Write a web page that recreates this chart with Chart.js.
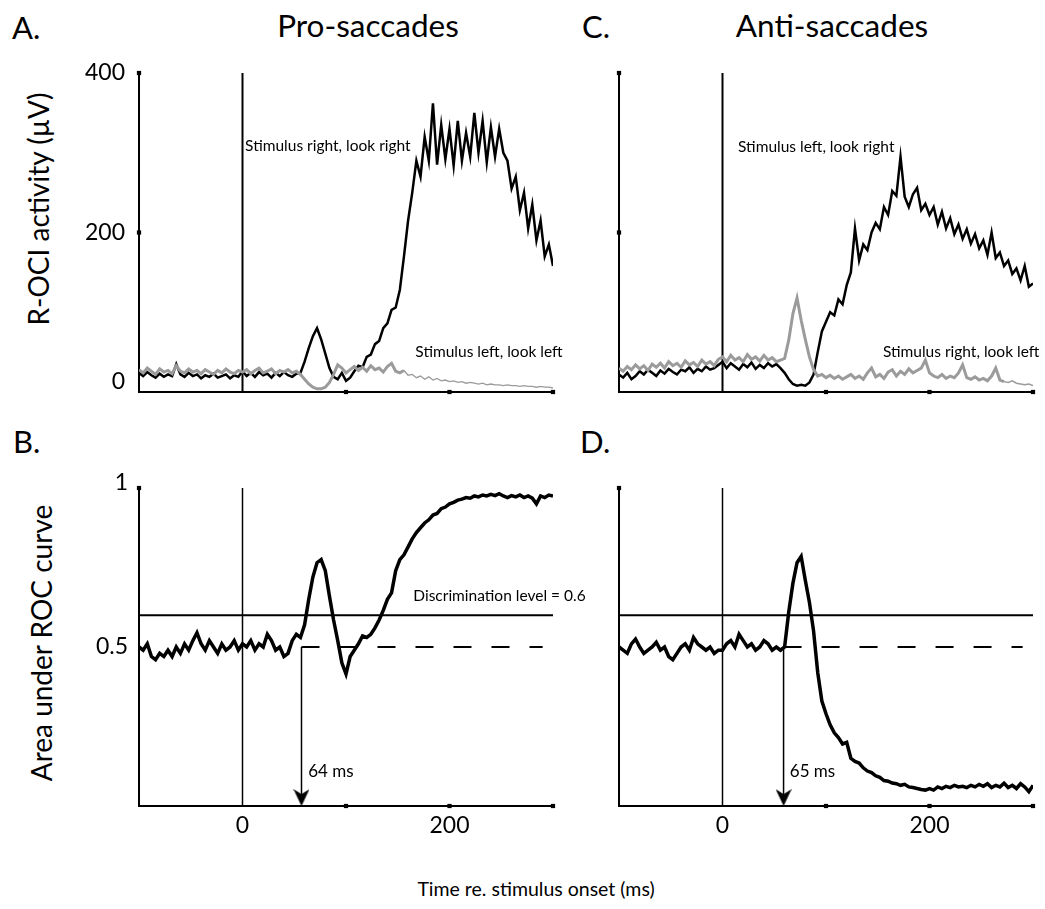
<!DOCTYPE html>
<html>
<head>
<meta charset="utf-8">
<script src="https://cdn.jsdelivr.net/npm/chart.js@4.4.0/dist/chart.umd.min.js"></script>
<style>
  html, body { margin: 0; padding: 0; background: #fff; }
  body { width: 1045px; height: 909px; position: relative; overflow: hidden; font-family: Lato, "Open Sans", sans-serif; color: #000; }
  canvas { position: absolute; }
  .lbl { position: absolute; white-space: nowrap; line-height: 1; }
  .c { transform: translate(-50%, -50%); }
  .l { transform: translate(0, -50%); }
  .rot { transform: translate(-50%, -50%) rotate(-90deg); }
</style>
</head>
<body>
<div class="lbl l" style="left:12px;top:27px;font-size:31px">A.</div>
<div class="lbl c" style="left:368px;top:26px;font-size:31.5px">Pro-saccades</div>
<div class="lbl l" style="left:582px;top:26px;font-size:31px">C.</div>
<div class="lbl c" style="left:832px;top:26px;font-size:31.5px">Anti-saccades</div>
<div class="lbl l" style="left:13px;top:441px;font-size:31px">B.</div>
<div class="lbl l" style="left:580px;top:441px;font-size:31px">D.</div>
<div class="lbl rot" style="left:38px;top:209px;font-size:28px">R-OCI activity (µV)</div>
<div class="lbl rot" style="left:41px;top:643px;font-size:28px">Area under ROC curve</div>
<div class="lbl c" style="left:536px;top:889px;font-size:19.5px">Time re. stimulus onset (ms)</div>

<canvas id="pA" width="560" height="399" style="left:59px;top:43px;width:560px;height:399px"></canvas>
<canvas id="pC" width="506" height="399" style="left:539px;top:43px;width:506px;height:399px"></canvas>
<canvas id="pB" width="560" height="398" style="left:59px;top:458px;width:560px;height:398px"></canvas>
<canvas id="pD" width="506" height="398" style="left:539px;top:458px;width:506px;height:398px"></canvas>

<script>
// ---- data (ms re. stimulus onset, 4 ms bins) ----
const TIME = [-100,-96,-92,-88,-84,-80,-76,-72,-68,-64,-60,-56,-52,-48,-44,-40,-36,-32,-28,-24,-20,-16,-12,-8,-4,
  0,4,8,12,16,20,24,28,32,36,40,44,48,52,
  56,60,64,68,72,76,80,84,88,92,96,100,104,108,112,116,120,124,128,132,136,140,144,148,152,156,160,164,168,172,176,
  180,184,188,192,196,200,204,208,212,216,220,224,228,232,236,240,244,248,252,256,260,264,268,272,276,280,284,288,292,296,300];

// A. pro-saccades, R-OCI activity (µV)
const PRO_RIGHT_RIGHT = [24,20,25,21,18,23,19,22,20,35,22,19,24,20,22,17,21,19,23,18,20,22,17,21,19,
  26,20,24,19,25,21,23,18,24,20,25,21,19,23,
  24,38,55,70,80,66,48,30,19,16,24,14,18,26,33,31,44,47,60,64,80,86,103,106,128,170,215,250,290,270,320,
  290,362,285,335,292,330,284,340,290,325,295,350,300,340,288,332,295,330,300,290,255,270,228,250,205,235,190,215,170,185,158];
const PRO_LEFT_LEFT = [28,24,30,26,22,29,25,27,23,33,26,24,29,25,27,23,28,25,22,27,24,29,25,23,27,
  25,28,23,27,30,24,26,29,23,27,25,28,24,26,
  22,16,10,6,4,4,6,12,22,34,30,24,28,32,27,31,26,33,28,30,25,32,36,26,24,27,21,22,18,20,16,
  19,15,17,14,15,13,14,12,13,11,12,11,10,11,9,10,9,9,8,9,8,8,7,8,7,7,6,7,6,6,5];

// C. anti-saccades, R-OCI activity (µV)
const ANTI_LEFT_RIGHT = [22,18,24,16,20,26,22,28,24,20,27,23,29,25,22,28,26,31,24,29,26,32,28,30,34,
  38,30,36,32,28,35,31,37,29,34,30,36,32,35,
  30,24,16,10,8,9,8,12,22,50,76,88,100,96,116,110,134,150,205,165,185,178,200,212,204,232,222,252,246,295,245,
  232,248,256,228,236,222,232,210,226,205,218,198,210,192,204,186,198,180,190,172,200,168,175,158,165,148,155,140,158,132,136];
const ANTI_RIGHT_LEFT = [30,26,32,28,34,29,33,27,35,31,36,30,38,33,36,31,39,34,37,32,40,35,38,33,41,
  44,38,46,40,43,38,47,41,44,39,46,40,43,38,
  40,42,65,98,118,90,66,44,28,20,22,18,21,17,20,16,19,22,17,20,16,24,30,19,22,17,25,28,20,26,22,
  29,24,27,30,40,24,20,18,22,17,20,18,24,34,18,16,19,15,17,14,20,30,15,13,12,14,11,10,9,10,8];

// B. / D. area under ROC curve
const AUC_PRO = [0.50,0.49,0.51,0.47,0.46,0.48,0.47,0.49,0.47,0.50,0.48,0.51,0.49,0.52,0.545,0.51,0.49,0.52,0.50,0.48,0.51,0.49,0.50,0.52,0.49,
  0.51,0.50,0.52,0.49,0.51,0.50,0.54,0.52,0.49,0.50,0.47,0.48,0.52,0.54,
  0.53,0.57,0.65,0.72,0.765,0.775,0.74,0.66,0.585,0.52,0.45,0.415,0.47,0.49,0.51,0.535,0.53,0.54,0.56,0.585,
  0.615,0.65,0.67,0.74,0.775,0.79,0.815,0.84,0.86,0.875,0.89,0.9,0.915,0.92,0.935,0.94,0.95,0.955,0.962,0.965,
  0.97,0.968,0.975,0.972,0.978,0.975,0.98,0.976,0.982,0.975,0.97,0.976,0.972,0.978,0.97,0.975,0.968,0.95,0.975,0.97,0.978,0.975];
const AUC_ANTI = [0.50,0.49,0.48,0.51,0.525,0.50,0.48,0.49,0.50,0.515,0.49,0.50,0.47,0.46,0.48,0.50,0.51,0.49,0.53,0.51,0.50,0.49,0.50,0.48,0.49,
  0.49,0.51,0.52,0.50,0.54,0.52,0.50,0.51,0.49,0.50,0.52,0.51,0.49,0.50,
  0.49,0.50,0.61,0.70,0.765,0.785,0.71,0.64,0.55,0.42,0.33,0.29,0.255,0.23,0.215,0.195,0.20,0.15,0.14,0.135,
  0.12,0.11,0.105,0.095,0.09,0.08,0.078,0.072,0.07,0.065,0.068,0.06,0.058,0.055,0.052,0.05,0.055,0.05,0.06,0.055,
  0.062,0.058,0.065,0.06,0.062,0.058,0.065,0.06,0.068,0.062,0.07,0.058,0.065,0.06,0.072,0.058,0.065,0.055,0.07,0.06,0.045,0.065];

// axes, reference levels, latencies
const X_RANGE = [-100, 300];
const X_TICKS = [0, 200];
const X_DOTS = [100, 200, 300];
const UV_RANGE = [0, 400];
const UV_TICKS = [0, 200, 400];
const UV_DOTS = [200, 400];
const AUC_RANGE = [0, 1];
const AUC_TICKS = [0.5, 1];
const AUC_DOTS = [1];
const DISCRIM_LEVEL = 0.6;
const CHANCE_LEVEL = 0.5;
const LATENCY_ARROW = { pro: 57, anti: 59 };
const LATENCY_TEXT = { pro: '64 ms', anti: '65 ms' };

const BLACK = '#000';
const GREY = '#9b9b9b';
const FONT = 'Lato, "Open Sans", sans-serif';

// arrow head used as point style at the end of the latency arrows
const head = document.createElement('canvas');
head.width = 16; head.height = 18;
(() => {
  const g = head.getContext('2d');
  g.fillStyle = BLACK;
  g.beginPath();
  g.moveTo(8, 18); g.lineTo(0, 1); g.lineTo(8, 6); g.lineTo(16, 1);
  g.closePath(); g.fill();
})();

// text notes placed in data coordinates
const notesPlugin = {
  id: 'notes',
  afterDatasetsDraw(chart, args, opts) {
    const { ctx, scales: { x, y } } = chart;
    ctx.save();
    (opts.items || []).forEach(n => {
      ctx.font = `${n.size}px ${FONT}`;
      ctx.fillStyle = BLACK;
      ctx.textAlign = 'left';
      ctx.textBaseline = 'middle';
      ctx.fillText(n.text, x.getPixelForValue(n.x), y.getPixelForValue(n.y));
    });
    ctx.restore();
  }
};

// thick (noisy) trace up to `thinFrom` ms, thinner afterwards
function series(vals, color, width, thinFrom, thinWidth) {
  const ds = { data: TIME.map((t, i) => ({ x: t, y: vals[i] })), borderColor: color, borderWidth: width, pointRadius: 0 };
  if (thinFrom != null) ds.segment = { borderWidth: c => (c.p0.parsed.x >= thinFrom ? thinWidth : width) };
  return ds;
}
function segment(a, b, width, dash) {
  return { data: [a, b], borderColor: BLACK, borderWidth: width, borderDash: dash || [], pointRadius: 0 };
}
function dots(yDots) {
  return {
    data: [...X_DOTS.map(v => ({ x: v, y: 0 })), ...yDots.map(v => ({ x: X_RANGE[0], y: v }))],
    showLine: false, pointStyle: 'rect', pointRadius: 3, pointBackgroundColor: BLACK, pointBorderWidth: 0, clip: false
  };
}
function arrow(xv) {
  return {
    data: [{ x: xv, y: CHANCE_LEVEL }, { x: xv, y: 0.028 }],
    borderColor: BLACK, borderWidth: 1.5,
    pointRadius: [0, 8], pointStyle: [false, head], clip: false
  };
}

function panel(id, o) {
  return new Chart(document.getElementById(id), {
    type: 'line',
    data: { datasets: o.datasets },
    options: {
      responsive: false, animation: false, devicePixelRatio: 1,
      layout: { padding: { top: 30, right: o.padRight, left: 0, bottom: 0 } },
      plugins: { legend: { display: false }, tooltip: { enabled: false }, notes: { items: o.notes } },
      elements: { line: { tension: 0 } },
      scales: {
        x: {
          type: 'linear', min: X_RANGE[0], max: X_RANGE[1],
          afterBuildTicks: s => { s.ticks = X_TICKS.map(v => ({ value: v })); },
          afterFit: s => { s.height = 50; },
          ticks: { display: o.showX, autoSkip: false, maxRotation: 0, padding: 6, color: BLACK,
                   font: { family: FONT, size: 23 }, callback: v => String(v) },
          grid: { display: true, drawOnChartArea: false, drawTicks: false },
          border: { display: true, color: BLACK, width: 2 }
        },
        y: {
          type: 'linear', min: o.yRange[0], max: o.yRange[1],
          afterBuildTicks: s => { s.ticks = o.yTicks.map(v => ({ value: v })); },
          afterFit: s => { s.width = 80; },
          ticks: { display: o.showY, autoSkip: false, padding: o.yPad, color: BLACK,
                   font: c => ({ family: FONT, size: 23, lineHeight: (c.tick && o.yShift[c.tick.value]) || 1.2 }),
                   callback: v => (o.yShift[v] ? [String(v), ''] : String(v)) },
          grid: { display: true, drawOnChartArea: false, drawTicks: false },
          border: { display: true, color: BLACK, width: 2 }
        }
      }
    },
    plugins: [notesPlugin]
  });
}

panel('pA', {
  showX: false, showY: true, padRight: 66, yRange: UV_RANGE, yTicks: UV_TICKS, yPad: 14, yShift: { 0: '20px' },
  datasets: [
    series(PRO_LEFT_LEFT, GREY, 3, 156, 1.3),
    series(PRO_RIGHT_RIGHT, BLACK, 2.5),
    segment({ x: 0, y: UV_RANGE[0] }, { x: 0, y: UV_RANGE[1] }, 2),
    dots(UV_DOTS)
  ],
  notes: [
    { text: 'Stimulus right, look right', x: 2.5, y: 308, size: 15.5 },
    { text: 'Stimulus left, look left', x: 167, y: 50, size: 15.5 }
  ]
});

panel('pC', {
  showX: false, showY: false, padRight: 12, yRange: UV_RANGE, yTicks: UV_TICKS, yPad: 14, yShift: {},
  datasets: [
    series(ANTI_RIGHT_LEFT, GREY, 3, 272, 1.5),
    series(ANTI_LEFT_RIGHT, BLACK, 2.5),
    segment({ x: 0, y: UV_RANGE[0] }, { x: 0, y: UV_RANGE[1] }, 2),
    dots(UV_DOTS)
  ],
  notes: [
    { text: 'Stimulus left, look right', x: 15, y: 307, size: 15.5 },
    { text: 'Stimulus right, look left', x: 155, y: 50, size: 15.5 }
  ]
});

panel('pB', {
  showX: true, showY: true, padRight: 66, yRange: AUC_RANGE, yTicks: AUC_TICKS, yPad: 11, yShift: { 1: '10px' },
  datasets: [
    series(AUC_PRO, BLACK, 3.5),
    segment({ x: X_RANGE[0], y: DISCRIM_LEVEL }, { x: X_RANGE[1], y: DISCRIM_LEVEL }, 2),
    segment({ x: LATENCY_ARROW.pro, y: CHANCE_LEVEL }, { x: 290, y: CHANCE_LEVEL }, 2, [18, 20]),
    segment({ x: 0, y: AUC_RANGE[0] }, { x: 0, y: AUC_RANGE[1] }, 1.5),
    arrow(LATENCY_ARROW.pro),
    dots(AUC_DOTS)
  ],
  notes: [
    { text: 'Discrimination level = 0.6', x: 165, y: 0.659, size: 15.5 },
    { text: LATENCY_TEXT.pro, x: 63.5, y: 0.109, size: 17 }
  ]
});

panel('pD', {
  showX: true, showY: false, padRight: 12, yRange: AUC_RANGE, yTicks: AUC_TICKS, yPad: 11, yShift: {},
  datasets: [
    series(AUC_ANTI, BLACK, 3.5),
    segment({ x: X_RANGE[0], y: DISCRIM_LEVEL }, { x: X_RANGE[1], y: DISCRIM_LEVEL }, 2),
    segment({ x: LATENCY_ARROW.anti, y: CHANCE_LEVEL }, { x: 290, y: CHANCE_LEVEL }, 2, [18, 20]),
    segment({ x: 0, y: AUC_RANGE[0] }, { x: 0, y: AUC_RANGE[1] }, 1.5),
    arrow(LATENCY_ARROW.anti),
    dots(AUC_DOTS)
  ],
  notes: [
    { text: LATENCY_TEXT.anti, x: 65, y: 0.108, size: 17 }
  ]
});
</script>
</body>
</html>
